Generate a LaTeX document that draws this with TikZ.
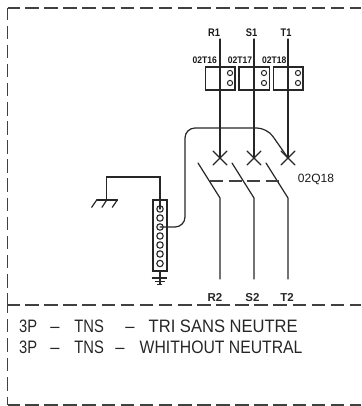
\documentclass[tikz,border=0pt]{standalone}
\usepackage{fontspec}
\setmainfont{Liberation Sans}
\newfontfamily\cadbig[FakeStretch=0.92]{Liberation Sans}
\newfontfamily\cadnarrow[FakeStretch=0.82]{Liberation Sans}
\newfontfamily\cadwide[FakeStretch=0.875]{Liberation Sans}
\newfontfamily\cadsmall[FakeStretch=0.85]{Liberation Sans}
\newfontfamily\cadtiny[FakeStretch=0.9]{Liberation Sans}
\tikzset{
  wire/.style={line width=1.2pt,black!85,line cap=round},
  framebase/.style={line width=1.5pt,black!75},
  frameline/.style={framebase,dash pattern=on 13.6pt off 5.5pt,dash phase=1.5pt},
  frameleftlow/.style={framebase,dash pattern=on 13.4pt off 6pt,dash phase=5.4pt},
  thinpart/.style={line width=1.1pt,black!85},
  hole/.style={circle,draw=black!85,line width=1pt,inner sep=0pt,minimum size=5.2pt},
  barhole/.style={circle,draw=black!85,line width=1.1pt,inner sep=0pt,minimum size=6.4pt},
  lab/.style={font=\cadsmall\bfseries\fontsize{11}{11}\selectfont,inner sep=0pt,text=black!90},
  boldlab/.style={font=\bfseries\fontsize{11.5}{11.5}\selectfont,inner sep=0pt,text=black!85},
  tinylab/.style={font=\cadtiny\bfseries\fontsize{9.5}{9.5}\selectfont,inner sep=0pt,text=black!90},
  bigtxt/.style={font=\cadbig\fontsize{18}{18}\selectfont,inner sep=0pt,anchor=west,text=black!85},
}
\begin{document}
\begin{tikzpicture}[x=1pt,y=-1pt]
\useasboundingbox (0,0) rectangle (361,406);
% frame
\coordinate (tl) at (7.5,8);
\coordinate (tr) at (361,8);
\coordinate (bl) at (7.5,405);
\coordinate (mr) at (361,305);
\coordinate (ml) at (7.5,305);
\coordinate (br) at (361,405);
\draw[frameline] (tl) -- (ml);
\draw[frameleftlow] (ml) -- (bl);
\draw[frameline] (tl) -- (tr);
\draw[frameline] (ml) -- (mr);
\draw[frameline] (bl) -- (br);
% boxes
\foreach \xa/\xb in {205.7/235,239/269.3,273.3/303}{
  \draw[thinpart] (\xa,67) rectangle (\xb,90);
}
\foreach \x/\n in {230/a,264/b,298/c}{
  \node[hole] (h1\n) at (\x,73) {};
  \node[hole] (h2\n) at (\x,83) {};
}
% labels
\node[lab] (r1) at (214,32.5) {R1};
\node[lab] (s1) at (251.5,32.5) {S1};
\node[lab] (t1) at (286,32.5) {T1};
\node[tinylab] (ta) at (204.7,60) {02T16};
\node[tinylab] (tb) at (240,60) {02T17};
\node[tinylab] (tc) at (274.3,60) {02T18};
\node[inner sep=0pt,font=\fontsize{12}{12}\selectfont,text=black!90] (q) at (316,179.5) {02Q18};
\node[boldlab] (r2) at (215,297.5) {R2};
\node[boldlab] (s2) at (252.5,297.5) {S2};
\node[boldlab] (t2) at (287,297.5) {T2};
% texts
\node[bigtxt] (l1) at (19,326) {{\cadnarrow 3P}\hspace{13pt}–\hspace{15pt}{\cadnarrow TNS}\hspace{21.5pt}–\hspace{14pt}TRI SANS NEUTRE};
\node[bigtxt] (l2) at (19,347) {{\cadnarrow 3P}\hspace{13pt}–\hspace{15pt}{\cadnarrow TNS}\hspace{11.5pt}–\hspace{15pt}{\cadwide WHITHOUT NEUTRAL}};
% poles
\foreach \x/\n in {220/a,254/b,288/c}{
  \coordinate (top\n) at (\x,39);
  \coordinate (cr\n) at (\x,158);
  \coordinate (bl\n) at (\x-22,163);
  \coordinate (pv\n) at (\x,198);
  \coordinate (bot\n) at (\x,279);
  \draw[wire] (top\n) -- (cr\n);
  \draw[wire] (\x-7,151) -- (\x+7,165);
  \draw[wire] (\x-7,165) -- (\x+7,151);
  \draw[wire] (bl\n) -- (pv\n) -- (bot\n);
}
% mechanical link
\coordinate (la) at (210,181);
\coordinate (lb) at (278.5,181);
\draw[line width=1.2pt,black!75,dash pattern=on 13pt off 5.5pt] (la) -- (lb);
% earth bar
\draw[thinpart] (153,200) rectangle (167,271);
\foreach \y/\n in {209/1,218/2,227/3,236/4,245/5,254/6,263.5/7}{
  \node[barhole] (b\n) at (160,\y) {};
}
% neutral-earth wire
\draw[wire,rounded corners=10pt] (b3.center) -- (185,227) -- (185,128) -- (267,128) -- (crc);
% link to earth electrode
\coordinate (g0) at (106.7,200);
\draw[wire] (b1.center) -- (160,177) -- (106.7,177) -- (g0);
\draw[wire] (96.7,200) -- (117.5,200);
\draw[wire] (96.7,200) -- (91.7,207.3);
\draw[wire] (106.7,200) -- (102,207.3);
\draw[wire] (117.3,200) -- (112.3,207.3);
% earth symbol
\coordinate (e0) at (160,271);
\draw[thinpart] (e0) -- (160,284.3);
\draw[thinpart] (151.7,278) -- (167,278);
\draw[thinpart] (155,281.5) -- (164.5,281.5);
\draw[thinpart] (157,284.5) -- (162,284.5);
\end{tikzpicture}
\end{document}
